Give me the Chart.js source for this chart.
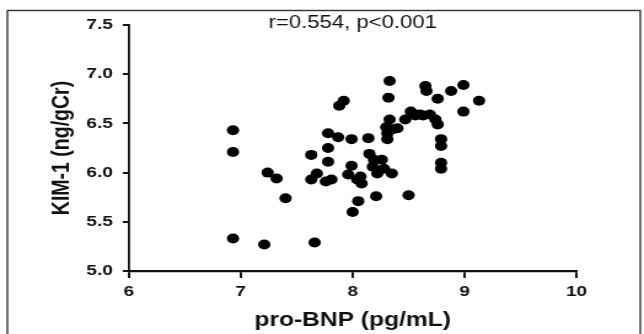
<!DOCTYPE html>
<html>
<head>
<meta charset="utf-8">
<script src="https://cdn.jsdelivr.net/npm/chart.js@4"></script>
<style>
html,body{margin:0;padding:0;background:#fff;overflow:hidden;}
#outer{width:644px;height:334px;overflow:hidden;position:relative;background:#fff;}
#wrap{width:524px;height:334px;position:absolute;left:0;top:0;transform:scaleX(1.229);transform-origin:0 0;}
</style>
</head>
<body>
<div id="outer"><div id="wrap"><canvas id="c" width="524" height="334"></canvas></div></div>
<script>
const proBNP = [6.93,6.93,6.93,7.21,7.24,7.32,7.40,7.66,7.63,7.63,7.68,7.76,7.78,7.78,7.78,7.81,7.87,7.88,7.92,7.99,7.96,7.99,8.00,8.05,8.07,8.08,8.04,8.14,8.15,8.19,8.18,8.21,8.22,8.26,8.28,8.35,8.33,8.32,8.33,8.30,8.31,8.31,8.36,8.40,8.47,8.52,8.50,8.60,8.65,8.66,8.69,8.74,8.76,8.76,8.79,8.79,8.79,8.79,8.88,8.99,8.99,9.13,8.56,8.63];
const kim1 = [6.43,6.21,5.33,5.27,6.00,5.94,5.74,5.29,6.18,5.93,5.99,5.91,6.25,6.11,6.40,5.93,6.36,6.68,6.73,6.34,5.98,6.07,5.60,5.71,5.96,5.89,5.93,6.35,6.19,6.13,6.06,5.76,5.99,6.13,6.04,5.99,6.93,6.76,6.54,6.46,6.34,6.40,6.44,6.45,6.54,6.62,5.77,6.59,6.88,6.83,6.59,6.54,6.49,6.75,6.34,6.27,6.10,6.04,6.83,6.89,6.62,6.73,6.58,6.58];
const xTicks = [6,7,8,9,10];
const yTicks = [5.0,5.5,6.0,6.5,7.0,7.5];
const annotation = 'r=0.554, p<0.001';
const xTitle = 'pro-BNP (pg/mL)';
const yTitle = 'KIM-1 (ng/gCr)';

const points = proBNP.map((x,i)=>({x:x,y:kim1[i]}));
const FONT = 'Arial, "Liberation Sans", Helvetica, sans-serif';

const frame = {
  id:'frame',
  beforeDraw(chart){
    const ctx = chart.ctx;
    ctx.save();
    ctx.fillStyle = '#fff';
    ctx.fillRect(0,0,chart.width,chart.height);
    ctx.strokeStyle = '#333';
    ctx.lineWidth = 1.4;
    ctx.strokeRect(6,10.5,515,340);
    ctx.restore();
  },
  afterDraw(chart){
    const ctx = chart.ctx;
    const a = chart.chartArea;
    ctx.save();
    ctx.fillStyle = '#111';
    ctx.font = '18px ' + FONT;
    ctx.textAlign = 'center';
    ctx.textBaseline = 'middle';
    ctx.fillText(annotation, (a.left+a.right)/2, 23);
    ctx.restore();
  }
};

new Chart(document.getElementById('c'), {
  type:'scatter',
  data:{datasets:[{
    data:points,
    backgroundColor:'#000',
    borderColor:'#000',
    pointRadius:5,
    pointHoverRadius:5,
    borderWidth:0
  }]},
  options:{
    responsive:false,
    animation:false,
    events:[],
    layout:{padding:{left:6,right:55,top:25,bottom:1}},
    plugins:{legend:{display:false},tooltip:{enabled:false},title:{display:false}},
    scales:{
      x:{
        type:'linear', min:6, max:10,
        afterBuildTicks(s){ s.ticks = xTicks.map(v=>({value:v})); },
        afterFit(s){ s.height = 334-271-1; },
        grid:{display:true, drawOnChartArea:false, drawTicks:true, tickLength:7, color:'#111', lineWidth:2},
        border:{display:true, color:'#111', width:2.2},
        ticks:{color:'#111', font:{family:FONT, size:15.5, weight:'bold'}, padding:4, maxRotation:0},
        title:{display:true, text:xTitle, color:'#111', font:{family:FONT, size:20, weight:'bold'}, padding:{top:0,bottom:1}}
      },
      y:{
        type:'linear', min:5, max:7.5,
        afterBuildTicks(s){ s.ticks = yTicks.map(v=>({value:v})); },
        afterFit(s){ s.width = 98.9; },
        grid:{display:true, drawOnChartArea:false, drawTicks:true, tickLength:5, color:'#111', lineWidth:2},
        border:{display:true, color:'#111', width:1.8},
        ticks:{color:'#111', font:{family:FONT, size:15.5, weight:'bold'}, padding:8, callback:v=>Number(v).toFixed(1)},
        title:{display:true, text:yTitle, color:'#111', font:{family:FONT, size:19.5, weight:'bold'}, padding:{top:33,bottom:0}}
      }
    }
  },
  plugins:[frame]
});
</script>
</body>
</html>
